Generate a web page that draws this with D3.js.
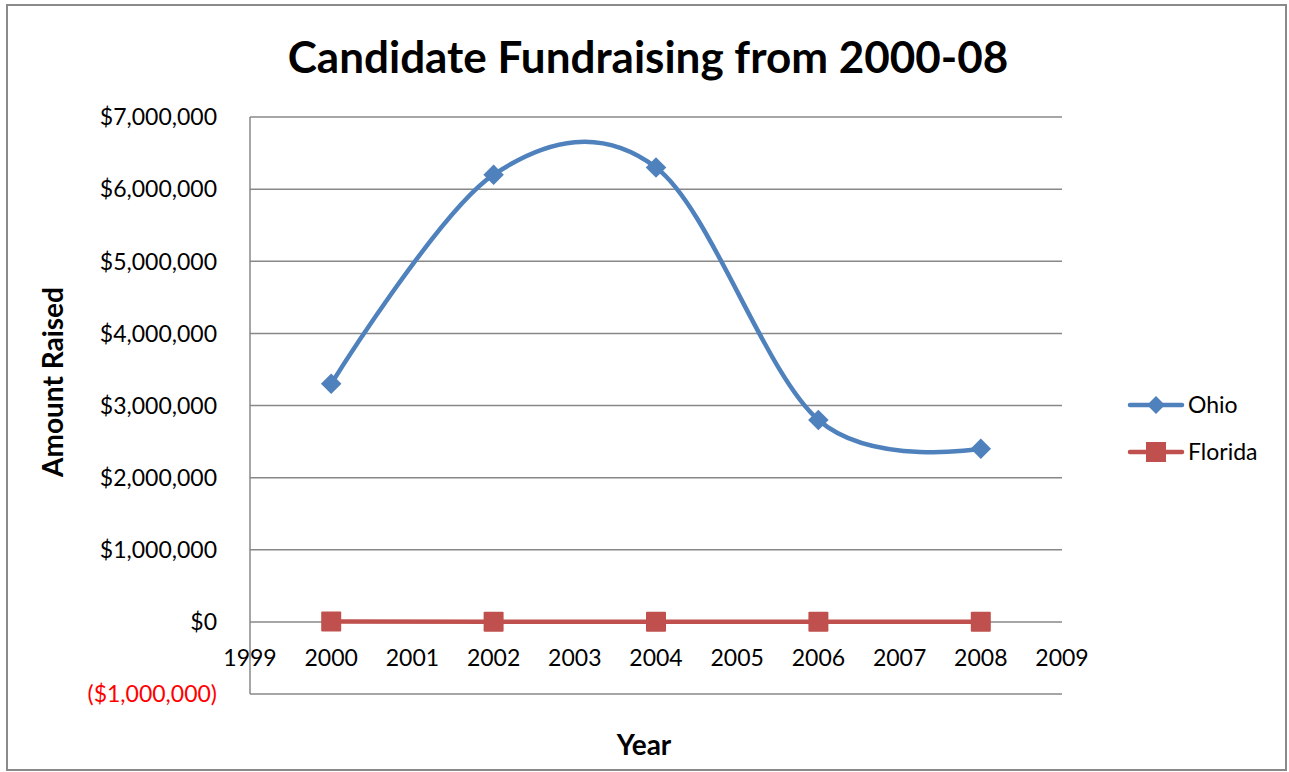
<!DOCTYPE html>
<html>
<head>
<meta charset="utf-8">
<script src="https://cdn.jsdelivr.net/npm/d3@7"></script>
<style>
  html, body { margin: 0; padding: 0; background: #fff; }
  svg { display: block; font-family: Lato, "Open Sans", sans-serif; }
</style>
</head>
<body>
<svg id="chart" width="1289" height="772"></svg>
<script>
// ---- data ----
const years = [2000, 2002, 2004, 2006, 2008];
const ohio = [3300000, 6200000, 6300000, 2800000, 2400000];
const florida = [5000, 1000, 1000, 1000, 1000];
const seriesNames = ["Ohio", "Florida"];
const xTicks = [1999, 2000, 2001, 2002, 2003, 2004, 2005, 2006, 2007, 2008, 2009];
const yTicks = [-1000000, 0, 1000000, 2000000, 3000000, 4000000, 5000000, 6000000, 7000000];
const titleText = "Candidate Fundraising from 2000-08";
const xTitle = "Year";
const yTitle = "Amount Raised";

const colors = { Ohio: "#4F81BD", Florida: "#C0504D" };
const gridColor = "#888888";

const svg = d3.select("#chart");

// outer border
svg.append("rect").attr("x", 7).attr("y", 5).attr("width", 1279).attr("height", 765)
  .attr("fill", "#fff").attr("stroke", "#8a8a8a").attr("stroke-width", 2);

const x = d3.scaleLinear().domain([1999, 2009]).range([250, 1062]);
const y = d3.scaleLinear().domain([-1000000, 7000000]).range([694, 117]);

// gridlines
svg.append("g").selectAll("line").data(yTicks).join("line")
  .attr("x1", x(1999)).attr("x2", x(2009))
  .attr("y1", d => y(d)).attr("y2", d => y(d))
  .attr("stroke", gridColor).attr("stroke-width", 1.5);

// y axis line
svg.append("line").attr("x1", x(1999)).attr("x2", x(1999))
  .attr("y1", y(7000000)).attr("y2", y(-1000000))
  .attr("stroke", gridColor).attr("stroke-width", 1.5);

// y tick labels
const fmt = d3.format(",");
svg.append("g").selectAll("text").data(yTicks).join("text")
  .attr("x", 217).attr("y", d => y(d)).attr("dy", "0.36em")
  .attr("text-anchor", "end").attr("font-size", 23)
  .attr("fill", d => d < 0 ? "#ff0000" : "#000")
  .text(d => d < 0 ? "($" + fmt(-d) + ")" : "$" + fmt(d));

// x tick labels (axis crosses at 0)
svg.append("g").selectAll("text").data(xTicks).join("text")
  .attr("x", d => x(d)).attr("y", y(0) + 44)
  .attr("text-anchor", "middle").attr("font-size", 23).attr("fill", "#000")
  .text(d => d);

// title
svg.append("text").attr("x", 648).attr("y", 73).attr("text-anchor", "middle")
  .attr("font-size", 44).attr("font-weight", "bold").attr("fill", "#000")
  .text(titleText);

// axis titles
svg.append("text").attr("x", 644).attr("y", 755).attr("text-anchor", "middle")
  .attr("font-size", 28).attr("font-weight", "bold").text(xTitle);
svg.append("text").attr("transform", "translate(63,382) rotate(-90)")
  .attr("text-anchor", "middle").attr("font-size", 28).attr("font-weight", "bold").text(yTitle);

// lines
const ohioPts = years.map((yr, i) => [yr, ohio[i]]);
const flPts = years.map((yr, i) => [yr, florida[i]]);

const smooth = d3.line().x(d => x(d[0])).y(d => y(d[1])).curve(d3.curveCatmullRom.alpha(0));
const straight = d3.line().x(d => x(d[0])).y(d => y(d[1]));

svg.append("path").attr("d", smooth(ohioPts)).attr("fill", "none")
  .attr("stroke", colors.Ohio).attr("stroke-width", 4.5).attr("stroke-linejoin", "round").attr("stroke-linecap", "round");
svg.append("path").attr("d", straight(flPts)).attr("fill", "none")
  .attr("stroke", colors.Florida).attr("stroke-width", 4.5).attr("stroke-linejoin", "round");

// markers
const diamond = d3.symbol().type(d3.symbolSquare).size(210);
svg.append("g").selectAll("path").data(ohioPts).join("path")
  .attr("d", diamond)
  .attr("transform", d => `translate(${x(d[0])},${y(d[1])}) rotate(45)`)
  .attr("fill", colors.Ohio);
svg.append("g").selectAll("rect").data(flPts).join("rect")
  .attr("x", d => x(d[0]) - 10).attr("y", d => y(d[1]) - 10)
  .attr("width", 20).attr("height", 20).attr("rx", 1)
  .attr("fill", colors.Florida);

// legend
const legend = svg.append("g");
const legY = { Ohio: 405, Florida: 452 };
seriesNames.forEach(name => {
  const ly = legY[name];
  legend.append("line").attr("x1", 1130).attr("x2", 1182).attr("y1", ly).attr("y2", ly)
    .attr("stroke", colors[name]).attr("stroke-width", 4.5).attr("stroke-linecap", "round");
  if (name === "Ohio") {
    legend.append("path").attr("d", d3.symbol().type(d3.symbolSquare).size(160)())
      .attr("transform", `translate(1156,${ly}) rotate(45)`).attr("fill", colors[name]);
  } else {
    legend.append("rect").attr("x", 1146).attr("y", ly - 10).attr("width", 20).attr("height", 20)
      .attr("fill", colors[name]);
  }
  legend.append("text").attr("x", 1188).attr("y", ly).attr("dy", "0.36em")
    .attr("font-size", 23).attr("fill", "#000").text(name);
});
</script>
</body>
</html>
